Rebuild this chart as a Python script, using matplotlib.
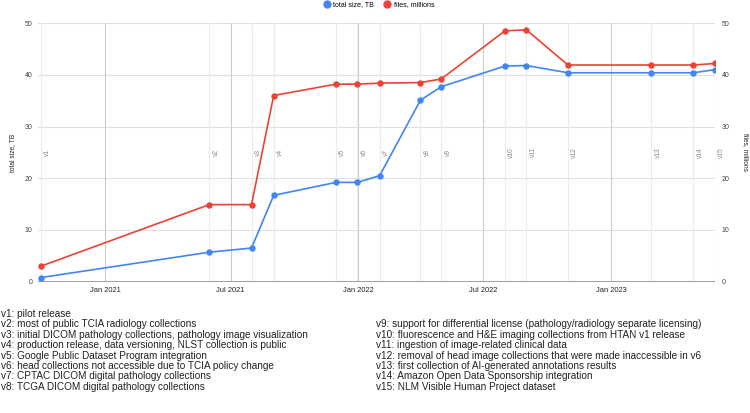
import numpy as np
import pandas as pd
import matplotlib
matplotlib.use("Agg")
import matplotlib.pyplot as plt
import matplotlib.dates as mdates
from matplotlib.lines import Line2D

plt.rcParams['font.family'] = ['Liberation Sans', 'DejaVu Sans']

# release data
versions = ["v1", "v2", "v3", "v4", "v5", "v6", "v7", "v8",
            "v9", "v10", "v11", "v12", "v13", "v14", "v15"]
release_dates = ["2020-09-30", "2021-05-31", "2021-07-31", "2021-09-01",
                 "2021-11-30", "2021-12-31", "2022-02-01", "2022-04-01",
                 "2022-05-01", "2022-08-01", "2022-09-01", "2022-10-31",
                 "2023-02-28", "2023-04-30", "2023-05-31"]
total_size_tb = [0.8, 5.7, 6.5, 16.7, 19.2, 19.2, 20.5, 35.1,
                 37.7, 41.7, 41.8, 40.4, 40.4, 40.4, 41.0]
files_millions = [3.0, 14.9, 14.9, 36.0, 38.2, 38.2, 38.4, 38.5,
                  39.2, 48.5, 48.7, 41.9, 41.9, 41.9, 42.2]
notes = [
    "v1: pilot release",
    "v2: most of public TCIA radiology collections",
    "v3: initial DICOM pathology collections, pathology image visualization",
    "v4: production release, data versioning, NLST collection is public",
    "v5: Google Public Dataset Program integration",
    "v6: head collections not accessible due to TCIA policy change",
    "v7: CPTAC DICOM digital pathology collections",
    "v8: TCGA DICOM digital pathology collections",
    "v9: support for differential license (pathology/radiology separate licensing)",
    "v10: fluorescence and H&E imaging collections from HTAN v1 release",
    "v11: ingestion of image-related clinical data",
    "v12: removal of head image collections that were made inaccessible in v6",
    "v13: first collection of AI-generated annotations results",
    "v14: Amazon Open Data Sponsorship integration",
    "v15: NLM Visible Human Project dataset",
]
month_ticks = ["2021-01-01", "2021-07-01", "2022-01-01", "2022-07-01", "2023-01-01"]

BLUE = "#4285f4"
RED = "#ea4335"

dates = pd.to_datetime(release_dates)
ticks = pd.to_datetime(month_ticks)

fig = plt.figure(figsize=(7.5, 4.13), dpi=100)
ax = fig.add_axes([0.051, 0.318, 0.902, 0.626])
ax2 = ax.twinx()

# gridlines
for y in range(10, 51, 10):
    ax.axhline(y, color="#e0e0e0", lw=0.8, zorder=0)
for t in ticks:
    ax.axvline(t, color="#cccccc", lw=0.8, zorder=0)
for d, v in zip(dates, versions):
    ax.axvline(d, color="#ececec", lw=0.8, zorder=0.5)
    ax.text(d + pd.Timedelta(days=10), 25, v, rotation=90, fontsize=4.8,
            color="#8a8a8a", ha="center", va="center")
ax.axhline(0, color="#9e9e9e", lw=1.4, zorder=1)

ax.plot(dates, total_size_tb, color=BLUE, lw=1.2, marker="o", ms=3.6, zorder=3)
ax2.plot(dates, files_millions, color=RED, lw=1.2, marker="o", ms=3.6, zorder=3)

for a in (ax, ax2):
    a.set_ylim(0, 50)
    a.set_yticks(range(0, 51, 10))
    for s in a.spines.values():
        s.set_visible(False)
    a.tick_params(length=0, labelsize=5, labelcolor="#444444")

ax.set_xlim(pd.Timestamp("2020-09-26"), pd.Timestamp("2023-05-31"))
ax.set_xticks(ticks)
ax.xaxis.set_major_formatter(mdates.DateFormatter("%b %Y"))
ax.tick_params(axis="x", labelsize=5.4, labelcolor="#222222", pad=4)
ax.tick_params(axis="y", pad=4)
ax2.tick_params(axis="y", pad=5)

ax.set_ylabel("total size, TB", fontsize=4.8, color="#222222", labelpad=6)
ax2.set_ylabel("files, millions", fontsize=4.8, color="#222222",
               rotation=270, labelpad=14)

handles = [Line2D([], [], color=BLUE, marker="o", ls="none", ms=5),
           Line2D([], [], color=RED, marker="o", ls="none", ms=5)]
fig.legend(handles, ["total size, TB", "files, millions"], loc="center",
           bbox_to_anchor=(0.505, 0.988), ncol=2, frameon=False, fontsize=5,
           handletextpad=0.5, columnspacing=1.3, handlelength=1.0)

# release notes below the chart
for i, n in enumerate(notes[:8]):
    fig.text(0.001, 1 - (314 + i * 10.4) / 413, n, fontsize=7.2,
             color="#222222", va="center")
for i, n in enumerate(notes[8:]):
    fig.text(0.501, 1 - (324.4 + i * 10.4) / 413, n, fontsize=7.2,
             color="#222222", va="center")

fig.savefig("out.png", dpi=100)
